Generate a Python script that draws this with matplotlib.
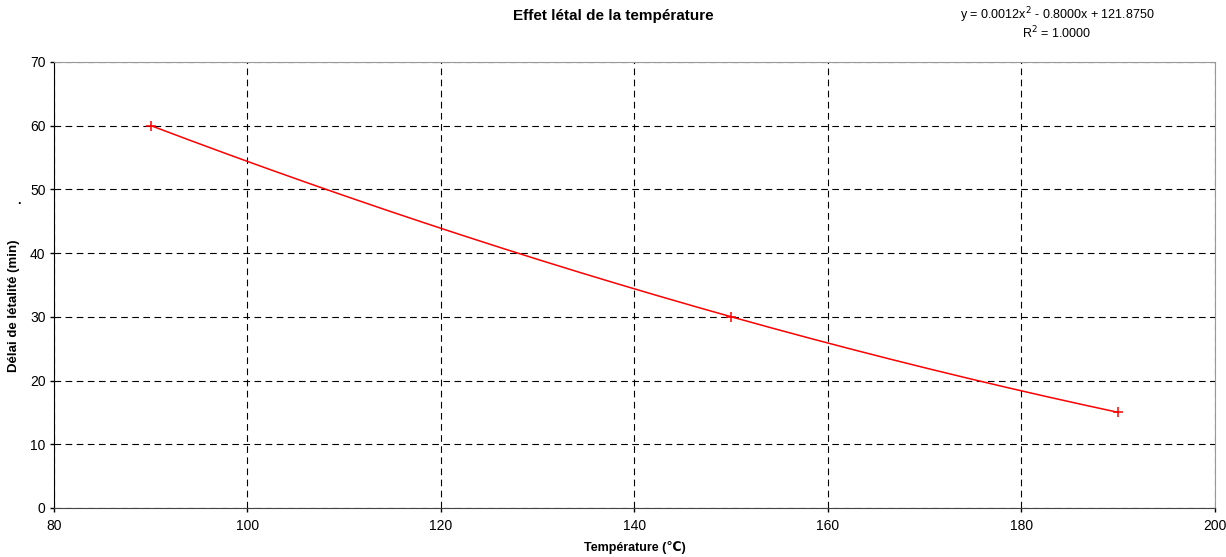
import numpy as np
import matplotlib.pyplot as plt

plt.rcParams['font.family'] = ['Liberation Sans', 'DejaVu Sans']

# points mesurés
temperature = [90, 150, 190]
delai = [60, 30, 15]

xticks = [80, 100, 120, 140, 160, 180, 200]
yticks = [0, 10, 20, 30, 40, 50, 60, 70]

# courbe de tendance polynomiale (ordre 2)
coef = np.polyfit(temperature, delai, 2)
xs = np.linspace(min(temperature), max(temperature), 200)
ys = np.polyval(coef, xs)

fig = plt.figure(figsize=(12.26, 5.57), dpi=100)
ax = fig.add_axes([0.044, 0.088, 0.947, 0.801])

ax.plot(xs, ys, color='red', lw=1.1)
ax.plot(temperature, delai, ls='none', marker='+', color='red', ms=7, mew=1.1)

ax.set_xlim(80, 200)
ax.set_ylim(0, 70)
ax.set_xticks(xticks)
ax.set_yticks(yticks)
ax.grid(True, color='black', ls=(0, (6, 4)), lw=0.8)
ax.set_axisbelow(True)
ax.tick_params(labelsize=10, length=3, width=1, direction='out')
ax.tick_params(axis='x', pad=5)
ax.tick_params(axis='y', pad=3)
for lab in ax.get_xticklabels():
    lab.set_clip_on(False)

ax.spines['left'].set_color('black')
ax.spines['bottom'].set_color('#444444')
ax.spines['right'].set_color('#999999')
ax.spines['top'].set_color('#999999')

ax.set_xlabel('Température (℃)', fontsize=9, fontweight='bold')
ax.set_ylabel('Délai de létalité (min)', fontsize=9.5, fontweight='bold')
ax.xaxis.set_label_coords(0.5, -0.075)
ax.yaxis.set_label_coords(-0.029, 0.453)

fig.text(0.5, 0.972, 'Effet létal de la température', ha='center', va='center',
         fontsize=11, fontweight='bold')
fig.text(0.862, 0.973, 'y = 0.0012x$^2$ - 0.8000x + 121.8750', ha='center', va='center', fontsize=9)
fig.text(0.862, 0.941, 'R$^2$ = 1.0000', ha='center', va='center', fontsize=9)
fig.text(0.0155, 0.64, '.', ha='center', va='center', fontsize=9, fontweight='bold')

fig.savefig('out.png', dpi=100)
